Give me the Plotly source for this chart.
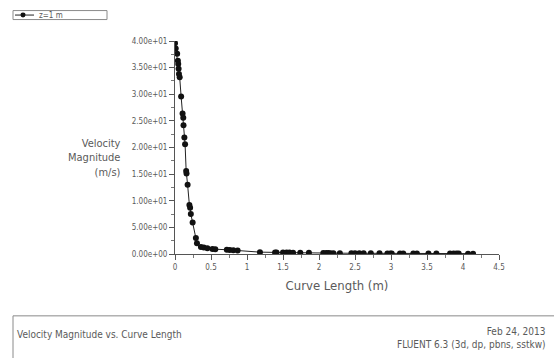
import plotly.graph_objects as go

# ---- data ----
curve_length = [0.0, 0.01, 0.03, 0.04, 0.045, 0.05, 0.055, 0.065, 0.085, 0.105,
                0.115, 0.118, 0.13, 0.14, 0.155, 0.16, 0.175, 0.20, 0.21, 0.22,
                0.245, 0.29, 0.305, 0.36, 0.40, 0.45, 0.52, 0.56, 0.72, 0.76,
                0.81, 0.87, 1.18, 1.39, 1.41, 1.50, 1.55, 1.59, 1.64, 1.74,
                1.86, 2.06, 2.10, 2.13, 2.16, 2.20, 2.29, 2.45, 2.50, 2.56,
                2.62, 2.72, 2.84, 2.95, 2.99, 3.01, 3.125, 3.17, 3.31, 3.36,
                3.52, 3.63, 3.82, 3.87, 3.91, 3.94, 4.07, 4.14]
velocity = [39.6, 38.6, 37.6, 36.3, 35.7, 34.8, 33.8, 33.2, 29.6, 26.4,
            25.6, 24.2, 21.9, 20.6, 15.6, 15.1, 13.0, 9.2, 8.7, 7.5,
            5.9, 3.0, 2.0, 1.3, 1.2, 1.1, 0.95, 0.9, 0.8, 0.75,
            0.7, 0.65, 0.35, 0.3, 0.3, 0.28, 0.27, 0.26, 0.25, 0.24,
            0.22, 0.18, 0.17, 0.17, 0.16, 0.16, 0.15, 0.14, 0.14, 0.13,
            0.13, 0.12, 0.12, 0.11, 0.11, 0.11, 0.1, 0.1, 0.1, 0.1,
            0.09, 0.09, 0.08, 0.08, 0.08, 0.08, 0.07, 0.07]
series_name = "z=1 m"
y_tickvals = [0, 5, 10, 15, 20, 25, 30, 35, 40]
y_ticktext = ["0.00e+00", "5.00e+00", "1.00e+01", "1.50e+01", "2.00e+01",
              "2.50e+01", "3.00e+01", "3.50e+01", "4.00e+01"]
x_tickvals = [0, 0.5, 1, 1.5, 2, 2.5, 3, 3.5, 4, 4.5]
x_ticktext = ["0", "0.5", "1", "1.5", "2", "2.5", "3", "3.5", "4", "4.5"]

# ---- layout geometry (pixels) ----
W, H = 554, 358
L, R, T, B = 175, 499, 40.5, 254


def px(xp):
    return (xp - L) / (R - L)


def py(yp):
    return (B - yp) / (B - T)


FONT = "DejaVu Sans Condensed, DejaVu Sans, sans-serif"
TXT = "#5a5a5a"
LINE = "#8a8a8a"

fig = go.Figure()
fig.add_trace(go.Scatter(
    x=curve_length, y=velocity, mode="lines+markers", name=series_name,
    line=dict(color="#222222", width=1),
    marker=dict(color="#111111", size=6, symbol="circle"),
    showlegend=False,
))

axis_common = dict(
    showgrid=False, zeroline=False, showline=True, linecolor="#555555",
    linewidth=1, ticks="outside", tickcolor="#555555", ticklen=5,
    tickfont=dict(family=FONT, size=8, color=TXT),
)

fig.update_xaxes(range=[0, 4.5], tickvals=x_tickvals, ticktext=x_ticktext,
                 title=dict(text="Curve Length (m)",
                            font=dict(family=FONT, size=13, color=TXT),
                            standoff=10),
                 minor=dict(ticks="outside", ticklen=3, tickcolor="#777777",
                            dtick=0.25, tick0=0),
                 **axis_common)
fig.update_yaxes(range=[0, 40], tickvals=y_tickvals, ticktext=y_ticktext,
                 minor=dict(ticks="outside", ticklen=3, tickcolor="#777777",
                            dtick=2.5, tick0=0),
                 **axis_common)

annotations = [
    dict(text="Velocity<br>Magnitude<br>(m/s)", x=px(123), y=py(158),
         xanchor="right", yanchor="middle", align="right",
         font=dict(family=FONT, size=11, color=TXT)),
    dict(text="Velocity Magnitude vs. Curve Length", x=px(15), y=py(335),
         xanchor="left", yanchor="middle", align="left",
         font=dict(family=FONT, size=10, color=TXT)),
    dict(text="Feb 24, 2013<br>FLUENT 6.3 (3d, dp, pbns, sstkw)",
         x=px(548), y=py(338), xanchor="right", yanchor="middle",
         align="right", font=dict(family=FONT, size=10, color=TXT)),
    # legend label
    dict(text=series_name, x=px(37), y=py(14.5), xanchor="left",
         yanchor="middle", align="left",
         font=dict(family=FONT, size=8, color=TXT)),
]
for a in annotations:
    a.update(xref="paper", yref="paper", showarrow=False)

shapes = [
    # footer box
    dict(type="rect", xref="paper", yref="paper", x0=px(13), x1=px(560),
         y0=py(316), y1=py(365), line=dict(color=LINE, width=1)),
    # legend box
    dict(type="rect", xref="paper", yref="paper", x0=px(13), x1=px(107),
         y0=py(10), y1=py(19), line=dict(color=LINE, width=1)),
    # legend sample line
    dict(type="line", xref="paper", yref="paper", x0=px(15), x1=px(34),
         y0=py(14.5), y1=py(14.5), line=dict(color="#222222", width=1)),
    # legend sample marker
    dict(type="circle", xref="paper", yref="paper", x0=px(20.5), x1=px(25.5),
         y0=py(12), y1=py(17), fillcolor="#111111",
         line=dict(color="#111111", width=0)),
]

fig.update_layout(
    width=W, height=H, autosize=False,
    margin=dict(l=L, r=W - R, t=T, b=H - B, pad=0, autoexpand=False),
    paper_bgcolor="white", plot_bgcolor="white",
    showlegend=False,
    annotations=annotations, shapes=shapes,
)

fig.write_html("out.html",
               config={"displayModeBar": False},
               post_script="document.body.style.margin='0';"
                           "document.body.style.padding='0';")
